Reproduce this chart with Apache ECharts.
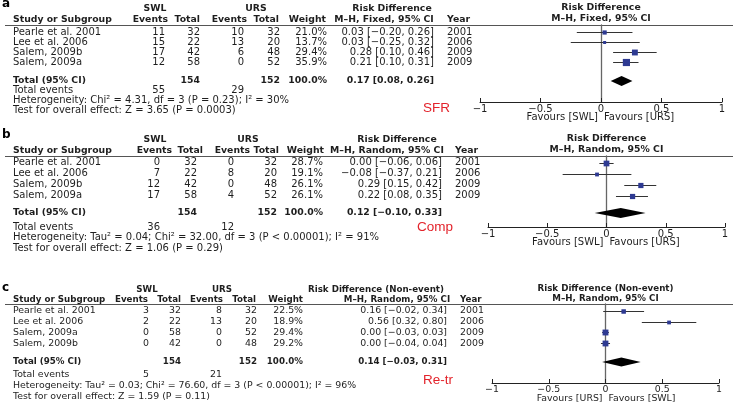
<!DOCTYPE html>
<html><head><meta charset="utf-8">
<script src="https://cdn.jsdelivr.net/npm/echarts@6/dist/echarts.min.js"></script>
<style>html,body{margin:0;padding:0;background:#fff}#c{width:738px;height:405px}</style>
</head><body><div id="c"></div>
<script>
// ---------- Panel a (SFR, fixed) ----------
const studiesA = ['Pearle et al. 2001','Lee et al. 2006','Salem, 2009b','Salem, 2009a'];
const swlEventsA = [11,15,17,12];
const swlTotalA = [32,22,42,58];
const ursEventsA = [10,13,6,0];
const ursTotalA = [32,20,48,52];
const weightA = [21.0,13.7,29.4,35.9];
const rdA = [0.03,0.03,0.28,0.21];
const loA = [-0.20,-0.25,0.10,0.10];
const hiA = [0.26,0.32,0.46,0.31];
const yearA = [2001,2006,2009,2009];
const totalA = [0.17,0.08,0.26];
const sumTotalsA = [154,152];
const totalEventsA = [55,29];
const hetA = 'Heterogeneity: Chi² = 4.31, df = 3 (P = 0.23); I² = 30%';
const testA = 'Test for overall effect: Z = 3.65 (P = 0.0003)';

// ---------- Panel b (Comp, random) ----------
const studiesB = ['Pearle et al. 2001','Lee et al. 2006','Salem, 2009b','Salem, 2009a'];
const swlEventsB = [0,7,12,17];
const swlTotalB = [32,22,42,58];
const ursEventsB = [0,8,0,4];
const ursTotalB = [32,20,48,52];
const weightB = [28.7,19.1,26.1,26.1];
const rdB = [0.00,-0.08,0.29,0.22];
const loB = [-0.06,-0.37,0.15,0.08];
const hiB = [0.06,0.21,0.42,0.35];
const yearB = [2001,2006,2009,2009];
const totalB = [0.12,-0.10,0.33];
const sumTotalsB = [154,152];
const totalEventsB = [36,12];
const hetB = 'Heterogeneity: Tau² = 0.04; Chi² = 32.00, df = 3 (P < 0.00001); I² = 91%';
const testB = 'Test for overall effect: Z = 1.06 (P = 0.29)';

// ---------- Panel c (Re-tr, random, non-event) ----------
const studiesC = ['Pearle et al. 2001','Lee et al. 2006','Salem, 2009a','Salem, 2009b'];
const swlEventsC = [3,2,0,0];
const swlTotalC = [32,22,58,42];
const ursEventsC = [8,13,0,0];
const ursTotalC = [32,20,52,48];
const weightC = [22.5,18.9,29.4,29.2];
const rdC = [0.16,0.56,0.00,0.00];
const loC = [-0.02,0.32,-0.03,-0.04];
const hiC = [0.34,0.80,0.03,0.04];
const yearC = [2001,2006,2009,2009];
const totalC = [0.14,-0.03,0.31];
const sumTotalsC = [154,152];
const totalEventsC = [5,21];
const hetC = 'Heterogeneity: Tau² = 0.03; Chi² = 76.60, df = 3 (P < 0.00001); I² = 96%';
const testC = 'Test for overall effect: Z = 1.59 (P = 0.11)';

const xTicks = [-1,-0.5,0,0.5,1];

// ---------- layout ----------
const panels = [
 {label:'a', tag:'SFR', title1:'Risk Difference', title2:'M–H, Fixed, 95% CI', fav:['Favours [SWL]','Favours [URS]'],
  studies:studiesA, se:swlEventsA, st:swlTotalA, ue:ursEventsA, ut:ursTotalA, w:weightA, rd:rdA, lo:loA, hi:hiA, yr:yearA,
  tot:totalA, sums:sumTotalsA, tev:totalEventsA, het:hetA, test:testA,
  L:{fs:10, labelY:4, h1Y:9, h2Y:20, lineY:25, row0:32, rowH:10, totalY:81, evY:90, hetY:100, testY:110, axisY:102,
     x0:480, x1:722, ev1:165, tot1:200, ev2:244, tot2:280, wt:327,
     hev1:168, htot1:200, hev2:247, htot2:279, hwt:326,
     ci:434, ciHead:392, ciHead2:384, year:447, tagX:423, tagY:108, swlC:155, ursC:256, dh:5}},
 {label:'b', tag:'Comp', title1:'Risk Difference', title2:'M–H, Random, 95% CI', fav:['Favours [SWL]','Favours [URS]'],
  studies:studiesB, se:swlEventsB, st:swlTotalB, ue:ursEventsB, ut:ursTotalB, w:weightB, rd:rdB, lo:loB, hi:hiB, yr:yearB,
  tot:totalB, sums:sumTotalsB, tev:totalEventsB, het:hetB, test:testB,
  L:{fs:10, labelY:135, h1Y:140, h2Y:151, lineY:156, row0:162.5, rowH:11, totalY:213, evY:227, hetY:237, testY:248, axisY:227,
     x0:488, x1:725, ev1:160, tot1:197, ev2:234, tot2:277, wt:323,
     hev1:172, htot1:203, hev2:250, htot2:279, hwt:324,
     ci:442, ciHead:397, ciHead2:387, year:455, tagX:417, tagY:227, swlC:155, ursC:248, dh:5}},
 {label:'c', tag:'Re-tr', title1:'Risk Difference (Non-event)', title2:'M–H, Random, 95% CI', fav:['Favours [URS]','Favours [SWL]'],
  studies:studiesC, se:swlEventsC, st:swlTotalC, ue:ursEventsC, ut:ursTotalC, w:weightC, rd:rdC, lo:loC, hi:hiC, yr:yearC,
  tot:totalC, sums:sumTotalsC, tev:totalEventsC, het:hetC, test:testC,
  L:{fs:9.4, labelY:288, h1Y:290, h2Y:300, lineY:304, row0:311, rowH:10.7, totalY:362, evY:375, hetY:386, testY:397, axisY:383,
     x0:492, x1:719, ev1:149, tot1:181, ev2:222, tot2:257, wt:303,
     hev1:148, htot1:181, hev2:223, htot2:256, hwt:303,
     ci:447, ciHead:376, ciHead2:397, year:460, tagX:423, tagY:380, swlC:147, ursC:222, dh:4.5}}
];

const FF = '"DejaVu Sans"';
const TXT = '#1e1e1e';
function fmt(v){ return (v < 0 ? '−' : '') + Math.abs(v).toFixed(2); }
function ciText(r,l,h){ return fmt(r) + ' [' + fmt(l) + ', ' + fmt(h) + ']'; }
function T(text, x, y, fs, opt){
  opt = opt || {};
  const al = opt.align || 'left';
  return {type:'text', x:x, y:y, silent:true,
    style:{text:String(text), font:(opt.bold?'bold ':'') + fs + 'px ' + (opt.ff || FF), fill:opt.color || TXT,
      textAlign:al, align:al, textVerticalAlign:'middle', verticalAlign:'middle'}};
}

const graphic = [];
const grids = [], xAxes = [], yAxes = [], series = [];

panels.forEach((P, i) => {
  const L = P.L, fs = L.fs, fb = fs - 0.7;
  graphic.push(T(P.label, 2, L.labelY, 12, {bold:true, color:'#000'}));
  graphic.push(T('SWL', L.swlC, L.h1Y, fb, {bold:true, align:'center'}));
  graphic.push(T('URS', L.ursC, L.h1Y, fb, {bold:true, align:'center'}));
  graphic.push(T(P.title1, L.ciHead, L.h1Y, fb, {bold:true, align:'center'}));
  graphic.push(T('Study or Subgroup', 13, L.h2Y, fb, {bold:true}));
  graphic.push(T('Events', L.hev1, L.h2Y, fb, {bold:true, align:'right'}));
  graphic.push(T('Total', L.htot1, L.h2Y, fb, {bold:true, align:'right'}));
  graphic.push(T('Events', L.hev2, L.h2Y, fb, {bold:true, align:'right'}));
  graphic.push(T('Total', L.htot2, L.h2Y, fb, {bold:true, align:'right'}));
  graphic.push(T('Weight', L.hwt, L.h2Y, fb, {bold:true, align:'right'}));
  graphic.push(T(P.title2, L.ciHead2, L.h2Y, fb, {bold:true, align:'center'}));
  graphic.push(T('Year', L.year, L.h2Y, fb, {bold:true}));
  const zx = L.x0 + (L.x1 - L.x0) / 2;
  graphic.push(T(P.title1, zx, L.h1Y - 1, fb, {bold:true, align:'center'}));
  graphic.push(T(P.title2, zx, L.h2Y - 1.5, fb, {bold:true, align:'center'}));
  graphic.push({type:'line', silent:true, shape:{x1:5, y1:L.lineY + 0.5, x2:733, y2:L.lineY + 0.5}, style:{stroke:'#555', lineWidth:1}});
  P.studies.forEach((s, k) => {
    const y = L.row0 + k * L.rowH;
    graphic.push(T(s, 13, y, fs));
    graphic.push(T(P.se[k], L.ev1, y, fs, {align:'right'}));
    graphic.push(T(P.st[k], L.tot1, y, fs, {align:'right'}));
    graphic.push(T(P.ue[k], L.ev2, y, fs, {align:'right'}));
    graphic.push(T(P.ut[k], L.tot2, y, fs, {align:'right'}));
    graphic.push(T(P.w[k].toFixed(1) + '%', L.wt, y, fs, {align:'right'}));
    graphic.push(T(ciText(P.rd[k], P.lo[k], P.hi[k]), L.ci, y, fs, {align:'right'}));
    graphic.push(T(P.yr[k], L.year, y, fs));
  });
  graphic.push(T('Total (95% CI)', 13, L.totalY, fb, {bold:true}));
  graphic.push(T(P.sums[0], L.tot1, L.totalY, fb, {bold:true, align:'right'}));
  graphic.push(T(P.sums[1], L.tot2, L.totalY, fb, {bold:true, align:'right'}));
  const wsum = P.w.reduce((a, b) => a + b, 0);
  graphic.push(T(wsum.toFixed(1) + '%', L.wt, L.totalY, fb, {bold:true, align:'right'}));
  graphic.push(T(ciText(P.tot[0], P.tot[1], P.tot[2]), L.ci, L.totalY, fb, {bold:true, align:'right'}));
  graphic.push(T('Total events', 13, L.evY, fs));
  graphic.push(T(P.tev[0], L.ev1, L.evY, fs, {align:'right'}));
  graphic.push(T(P.tev[1], L.ev2, L.evY, fs, {align:'right'}));
  graphic.push(T(P.het, 13, L.hetY, fs));
  graphic.push(T(P.test, 13, L.testY, fs));
  graphic.push(T(P.tag, L.tagX, L.tagY, 13.5, {color:'#e3232b', ff:'"Liberation Sans"'}));
  graphic.push(T(P.fav[0], zx - 3, L.axisY + 15.5, fs, {align:'right'}));
  graphic.push(T(P.fav[1], zx + 3, L.axisY + 15.5, fs));

  grids.push({left:L.x0, top:L.lineY, width:L.x1 - L.x0, height:L.axisY - L.lineY});
  xAxes.push({type:'value', gridIndex:i, min:xTicks[0], max:xTicks[xTicks.length - 1], interval:0.5, position:'bottom',
    axisLine:{onZero:false, lineStyle:{color:'#222', width:1}},
    axisTick:{inside:true, length:4, lineStyle:{color:'#222'}},
    axisLabel:{margin:2, fontSize:fs, fontFamily:'DejaVu Sans', color:TXT, formatter:v => (v < 0 ? '−' : '') + Math.abs(v)},
    splitLine:{show:false}});
  const yMin = (L.lineY - L.row0) / L.rowH, yMax = (L.axisY - L.row0) / L.rowH;
  yAxes.push({type:'value', gridIndex:i, inverse:true, min:yMin, max:yMax,
    axisLine:{show:true, onZero:true, lineStyle:{color:'#666', width:1.3}},
    axisTick:{show:false}, axisLabel:{show:false}, splitLine:{show:false}});

  series.push({type:'custom', xAxisIndex:i, yAxisIndex:i, silent:true, z:5,
    encode:{x:0, y:3},
    data:P.rd.map((r, k) => [r, P.lo[k], P.hi[k], k, P.w[k]]),
    renderItem:function(params, api){
      const r = api.value(0), lo = api.value(1), hi = api.value(2), row = api.value(3), w = api.value(4);
      const p = api.coord([r, row]), a = api.coord([lo, row]), b = api.coord([hi, row]);
      const yy = Math.round(p[1]) + 0.5;
      const s = Math.max(3, w * 0.2);
      return {type:'group', children:[
        {type:'line', shape:{x1:a[0], y1:yy, x2:b[0], y2:yy}, style:{stroke:'#333', lineWidth:1}},
        {type:'rect', shape:{x:p[0] - s / 2, y:yy - s / 2, width:s, height:s}, style:{fill:'#2e3a92'}}
      ]};
    }});
  const totRow = (L.totalY - L.row0) / L.rowH;
  const dh = L.dh;
  series.push({type:'custom', xAxisIndex:i, yAxisIndex:i, silent:true, z:6,
    encode:{x:0, y:3},
    data:[[P.tot[0], P.tot[1], P.tot[2], totRow]],
    renderItem:function(params, api){
      const row = api.value(3);
      const c = api.coord([api.value(0), row]), a = api.coord([api.value(1), row]), b = api.coord([api.value(2), row]);
      return {type:'polygon', shape:{points:[[a[0], c[1]], [c[0], c[1] - dh], [b[0], c[1]], [c[0], c[1] + dh]]}, style:{fill:'#000'}};
    }});
});

const chart = echarts.init(document.getElementById('c'), null, {renderer:'canvas'});
chart.setOption({animation:false, backgroundColor:'#fff', grid:grids, xAxis:xAxes, yAxis:yAxes, series:series, graphic:graphic});
</script></body></html>
